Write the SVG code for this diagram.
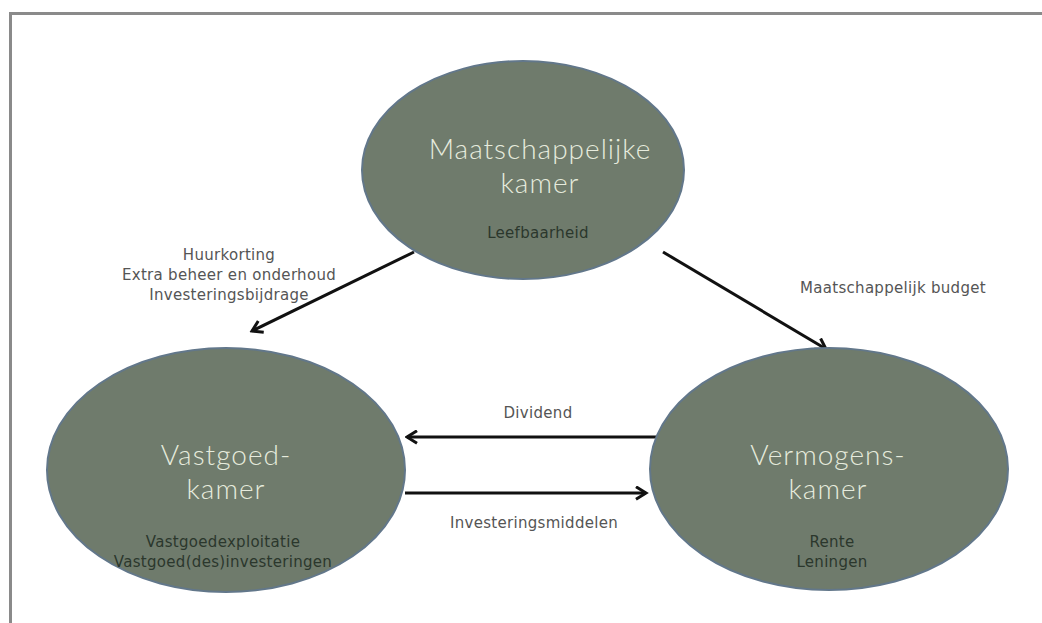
<svg xmlns="http://www.w3.org/2000/svg" width="1042" height="623" viewBox="0 0 1042 623">
<style>
.node{fill:#6f7b6c;stroke:#62778a;stroke-width:2}
.title{font-family:Lato,"Open Sans",sans-serif;font-size:28px;fill:#e6ebdd;text-anchor:middle;font-weight:300;letter-spacing:1px}
.sub{font-family:"DejaVu Sans",sans-serif;font-size:15px;fill:#2b372c;text-anchor:middle;letter-spacing:0.3px}
.lbl{font-family:"DejaVu Sans",sans-serif;font-size:15px;fill:#555;text-anchor:middle;letter-spacing:0.3px}
.conn{stroke:#111;stroke-width:3;fill:none;marker-end:url(#arr)}
</style>
<defs>
<marker id="arr" viewBox="0 0 12 12" refX="10" refY="6" markerWidth="5" markerHeight="5" orient="auto" markerUnits="strokeWidth">
<polyline points="2,1 10,6 2,11" fill="none" stroke="#111" stroke-width="2.4"/>
</marker>
</defs>
<rect width="1042" height="623" fill="#fff"/>
<path d="M10.5,623 V13.5 H1042" fill="none" stroke="#8a8a8a" stroke-width="3"/>
<g id="connectors">
<line class="conn" x1="414" y1="252" x2="252" y2="331"/>
<line class="conn" x1="663" y1="252" x2="826" y2="349"/>
<line class="conn" x1="656" y1="437" x2="407" y2="437"/>
<line class="conn" x1="405" y1="493" x2="646" y2="493"/>
</g>
<g id="node-maatschappelijk">
<ellipse class="node" cx="523" cy="170" rx="161" ry="109"/>
<text class="title" x="540" y="159">Maatschappelijke</text>
<text class="title" x="540" y="193">kamer</text>
<text class="sub" x="538" y="238">Leefbaarheid</text>
</g>
<g id="node-vastgoed">
<ellipse class="node" cx="226" cy="470" rx="179" ry="122"/>
<text class="title" x="226" y="465">Vastgoed-</text>
<text class="title" x="226" y="499">kamer</text>
<text class="sub" x="223" y="547">Vastgoedexploitatie</text>
<text class="sub" x="223" y="567">Vastgoed(des)investeringen</text>
</g>
<g id="node-vermogens">
<ellipse class="node" cx="829" cy="469" rx="179" ry="121"/>
<text class="title" x="828" y="465">Vermogens-</text>
<text class="title" x="828" y="499">kamer</text>
<text class="sub" x="832" y="547">Rente</text>
<text class="sub" x="832" y="567">Leningen</text>
</g>
<g id="labels">
<text class="lbl" x="229" y="260">Huurkorting</text>
<text class="lbl" x="229" y="280">Extra beheer en onderhoud</text>
<text class="lbl" x="229" y="300">Investeringsbijdrage</text>
<text class="lbl" x="893" y="293">Maatschappelijk budget</text>
<text class="lbl" x="538" y="418">Dividend</text>
<text class="lbl" x="534" y="528">Investeringsmiddelen</text>
</g>
</svg>
